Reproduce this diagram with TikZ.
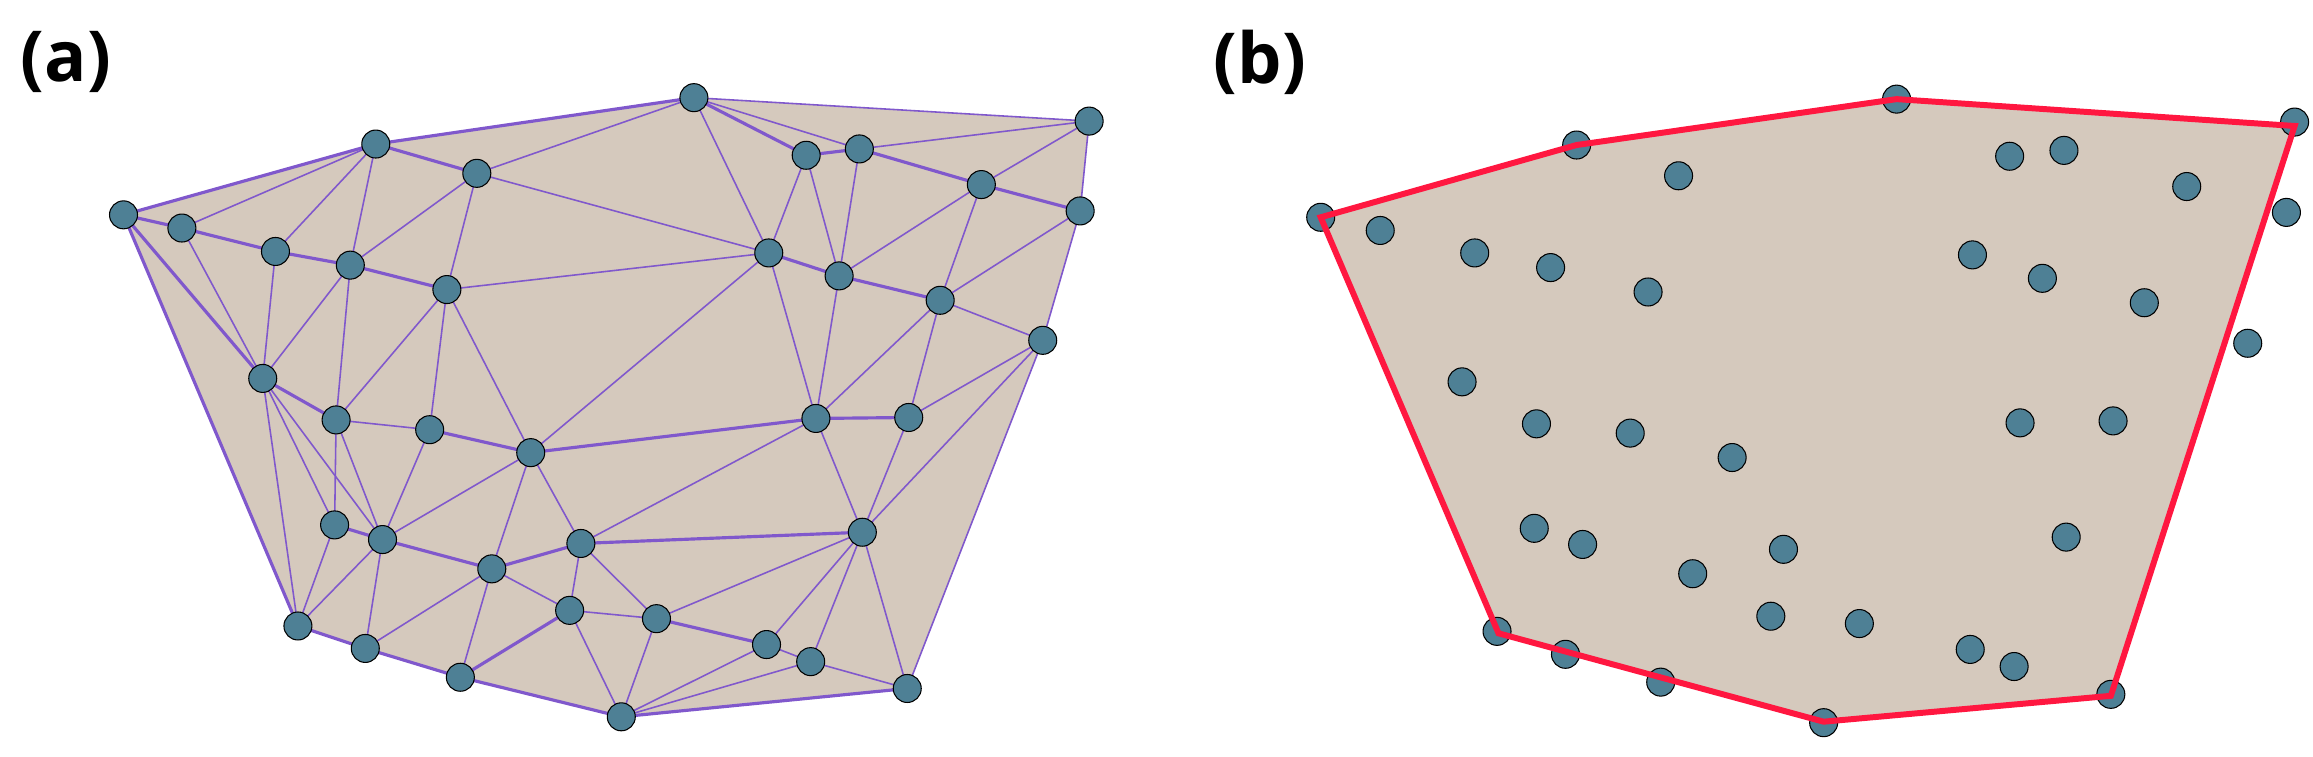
\documentclass[tikz,border=0pt]{standalone}
\usepackage{fontspec}
\setmainfont{Open Sans}
\definecolor{fillc}{HTML}{D5C9BD}
\definecolor{ptc}{HTML}{4E8095}
\definecolor{edgec}{HTML}{8058CC}
\definecolor{hullc}{HTML}{FF1740}
\tikzset{
  pt/.style={circle,draw=black,line width=0.6pt,fill=ptc,minimum size=0.56cm,inner sep=0pt},
  ed/.style={edgec,line width=0.9pt},
  edt/.style={edgec,line width=1.8pt},
  lab/.style={font=\bfseries\fontsize{40}{44}\selectfont,inner sep=0pt}
}
\begin{document}
\begin{tikzpicture}[x=0.02cm,y=-0.02cm]
\useasboundingbox (0,0) rectangle (2313,757);
\node[lab] (la) at (66,62) {(a)};
\node[lab] (lb) at (1260,62) {(b)};
% ---------- panel a ----------
\begin{scope}[xscale=0.7485,yscale=0.4883]
\foreach \n/\x/\y in {1/927/200,2/1455/248,3/502/295,4/637/355,5/1077/318,6/1148/305,7/1311/378,8/1443/432,9/165/440,10/243/467,11/368/515,12/468/543,13/597/593,14/1027/518,15/1121/565,16/1256/615,17/1393/697,18/351/775,19/449/860,20/574/880,21/709/927,22/1090/857,23/1214/855,24/447/1075,25/511/1105,26/776/1113,27/657/1165,28/1152/1090,29/761/1250,30/877/1267,31/398/1282,32/488/1328,33/1024/1320,34/1083/1355,35/615/1387,36/1212/1410,37/830/1468}
  \coordinate (a\n) at (\x,\y);
\fill[fillc] (a9)--(a3)--(a1)--(a2)--(a8)--(a17)--(a36)--(a37)--(a35)--(a32)--(a31)--cycle;
\foreach \p/\q in {9/10,10/11,11/12,12/13,9/18,3/4,1/5,6/7,7/8,14/15,15/16,18/19,20/21,21/22,22/23,24/25,25/27,27/26,26/28,29/35,30/33,36/37,37/35,35/32,32/31,31/9,9/3,3/1,5/6}
  \draw[edt] (a\p)--(a\q);
\foreach \p/\q in {1/2,2/8,8/17,17/36,3/10,3/11,3/12,4/1,4/12,4/13,4/14,1/6,1/14,5/14,5/15,6/2,6/15,7/2,7/15,7/16,8/16,13/14,14/21,14/22,15/22,16/22,16/23,16/17,10/18,11/18,12/18,12/19,13/19,13/20,13/21,19/20,17/23,17/28,23/28,22/28,22/26,18/24,18/31,18/25,19/24,19/25,20/25,21/25,21/26,21/27,24/31,25/31,25/32,26/29,26/30,27/29,27/35,27/32,28/30,28/33,28/34,28/36,29/30,29/37,30/37,33/37,34/37,34/36,33/34}
  \draw[ed] (a\p)--(a\q);
\foreach \n in {1,...,37} \node[pt] (na\n) at (a\n) {};
\end{scope}
% ---------- panel b ----------
\begin{scope}[shift={(1160,0)},xscale=0.744,yscale=0.4883]
\foreach \n/\x/\y in {1/990/203,2/1525/250,3/560/297,4/697/360,5/1142/320,6/1215/308,7/1380/382,8/1514/435,9/216/445,10/296/472,11/423/518,12/525/548,13/656/598,14/1092/522,15/1186/570,16/1323/620,17/1462/703,18/406/782,19/506/868,20/632/887,21/769/937,22/1156/866,23/1281/862,24/503/1082,25/568/1115,26/838/1125,27/716/1175,28/1218/1100,29/821/1262,30/940/1277,31/453/1293,32/545/1340,33/1089/1330,34/1148/1365,35/673/1397,36/1278/1422,37/892/1480}
  \coordinate (b\n) at (\x,\y);
\coordinate (h1) at (216,445); \coordinate (h2) at (560,297);
\coordinate (h3) at (990,203); \coordinate (h4) at (1525,258);
\coordinate (h5) at (1278,1425); \coordinate (h6) at (892,1478);
\coordinate (h7) at (455,1297);
\fill[fillc] (h1)--(h2)--(h3)--(h4)--(h5)--(h6)--(h7)--cycle;
\foreach \n in {1,...,37} \node[pt] (nb\n) at (b\n) {};
\draw[hullc,line width=3.4pt,line join=miter] (h1)--(h2)--(h3)--(h4)--(h5)--(h6)--(h7)--cycle;
\end{scope}
\end{tikzpicture}
\end{document}
